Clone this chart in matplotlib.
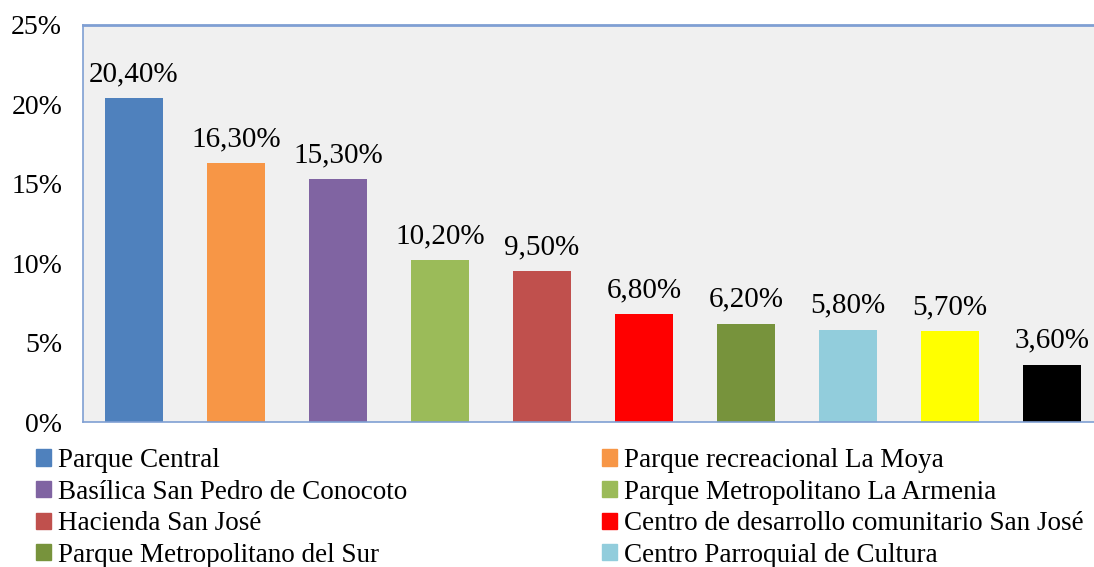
import matplotlib.pyplot as plt
from matplotlib.patches import Patch

# lugares visitados y porcentajes (las dos últimas entradas de la leyenda no se ven)
lugares = ['Parque Central', 'Parque recreacional La Moya',
           'Basílica San Pedro de Conocoto', 'Parque Metropolitano La Armenia',
           'Hacienda San José', 'Centro de desarrollo comunitario San José',
           'Parque Metropolitano del Sur', 'Centro Parroquial de Cultura']
porcentajes = [20.4, 16.3, 15.3, 10.2, 9.5, 6.8, 6.2, 5.8, 5.7, 3.6]
etiquetas = ['20,40%', '16,30%', '15,30%', '10,20%', '9,50%',
             '6,80%', '6,20%', '5,80%', '5,70%', '3,60%']
colores = ['#4F81BD', '#F79646', '#8064A2', '#9BBB59', '#C0504D',
           '#FF0000', '#77933C', '#92CDDC', '#FFFF00', '#000000']
yticks = [0, 5, 10, 15, 20, 25]

plt.rcParams['font.family'] = ['Liberation Serif', 'DejaVu Serif']

fig = plt.figure(figsize=(10.94, 5.67), dpi=100)
ax = fig.add_axes([83/1094, 145/567, 1020/1094, 397/567])
ax.set_facecolor('#F0F0F0')

x = range(len(porcentajes))
bars = ax.bar(x, porcentajes, width=0.57, color=colores)
for b, txt in zip(bars, etiquetas):
    ax.annotate(txt, (b.get_x() + b.get_width()/2, b.get_height()),
                xytext=(0, 8), textcoords='offset points',
                ha='center', va='bottom', fontsize=21)

ax.set_xlim(-0.5, len(porcentajes) - 0.5)
ax.set_ylim(0, 25)
ax.set_yticks(yticks)
ax.set_yticklabels([f'{v}%' for v in yticks], fontsize=20)
ax.set_xticks([])
ax.tick_params(axis='y', length=0, pad=15)
for s in ax.spines.values():
    s.set_color('#7F9FD3')
    s.set_linewidth(1.2)
ax.spines['top'].set_linewidth(2)

# leyenda en orden por filas (2 columnas)
orden = [0, 2, 4, 6, 1, 3, 5, 7]
handles = [Patch(color=colores[i], label=lugares[i]) for i in orden]
fig.legend(handles=handles, ncol=2, loc='upper left',
           bbox_to_anchor=(0.023, 0.229), frameon=False, fontsize=19.5,
           handlelength=0.55, handleheight=0.55, handletextpad=0.25,
           columnspacing=7.2, labelspacing=0.245, borderaxespad=0)

fig.savefig('out.png', dpi=100)
